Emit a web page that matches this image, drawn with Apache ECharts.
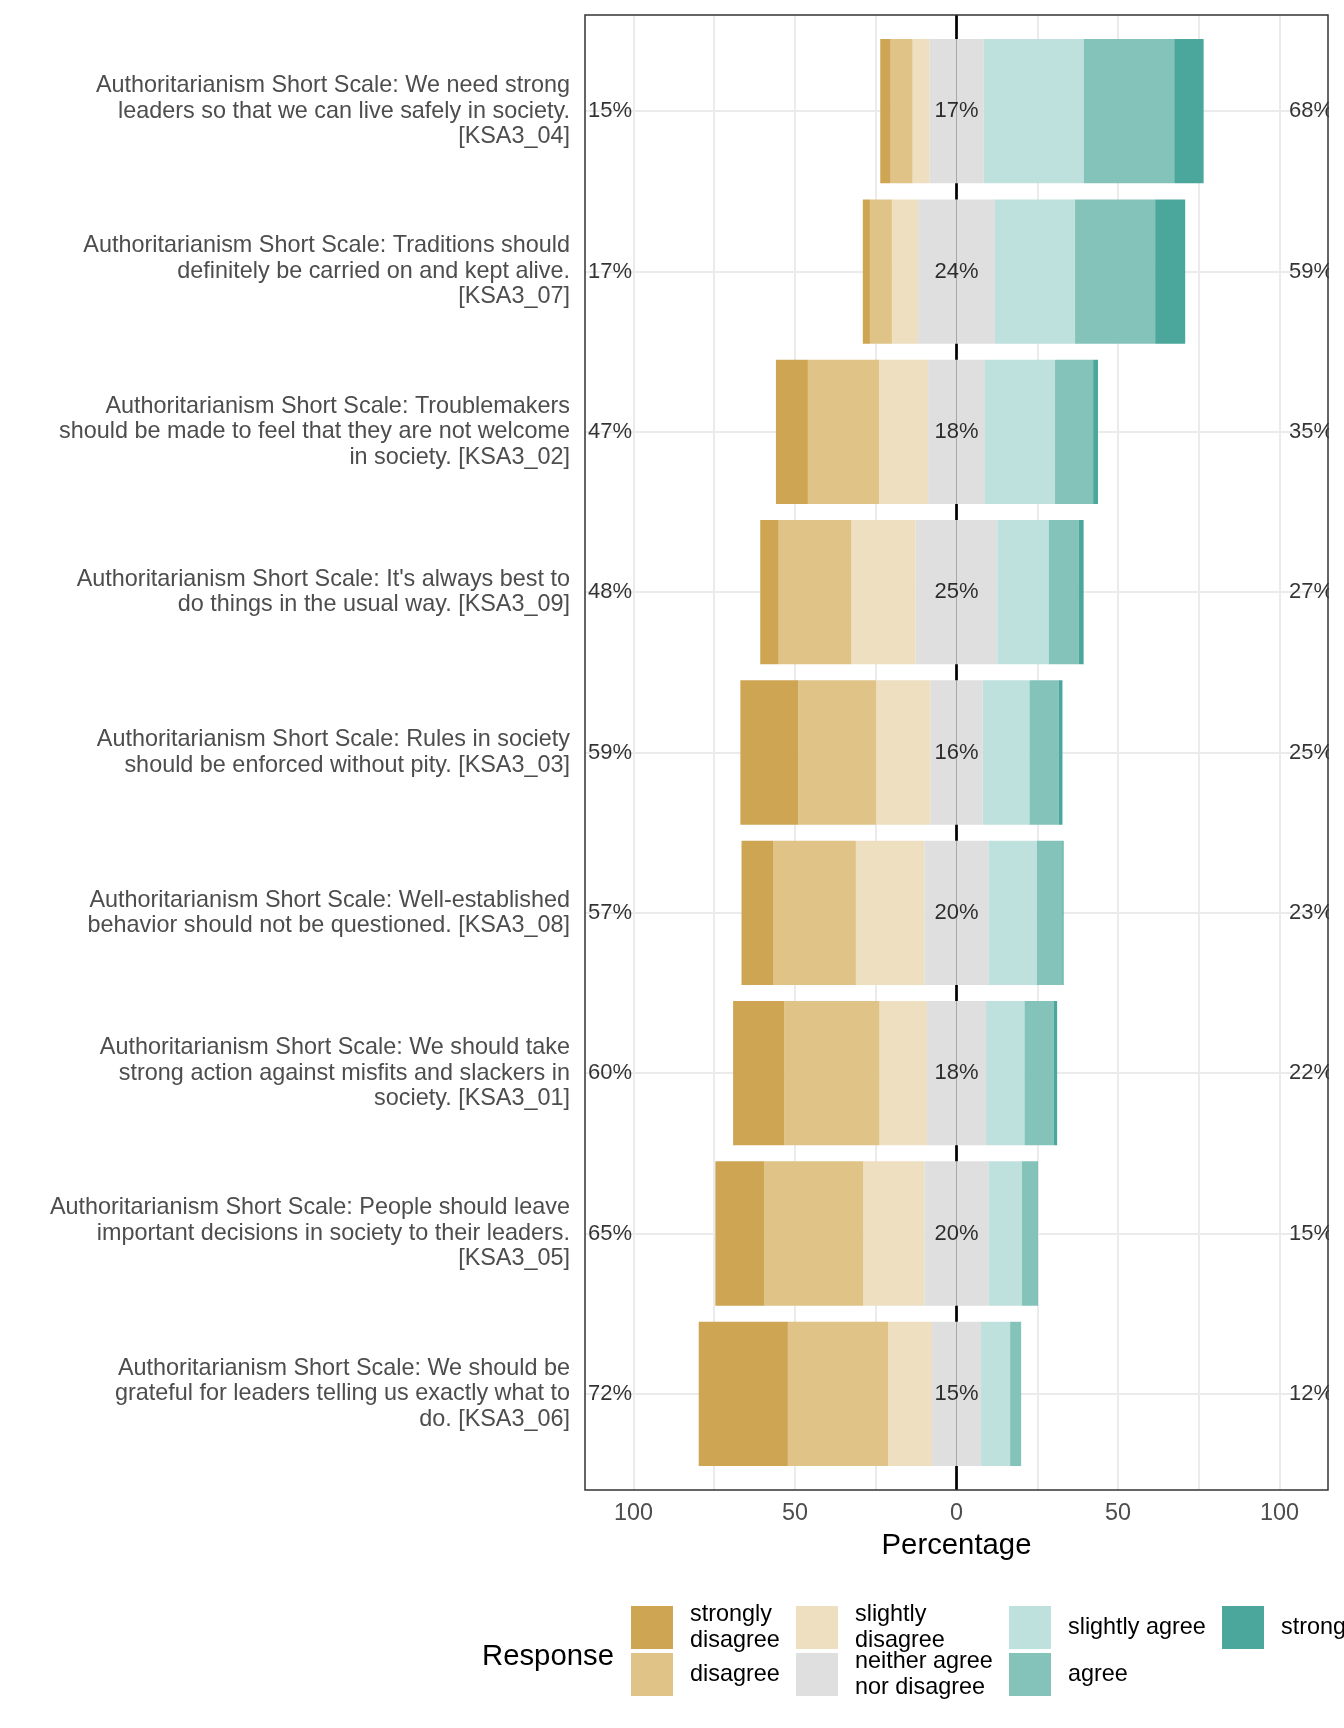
<!DOCTYPE html>
<html>
<head>
<meta charset="utf-8">
<script src="https://cdn.jsdelivr.net/npm/echarts/dist/echarts.min.js"></script>
<style>
html,body{margin:0;padding:0;background:#ffffff;}
#chart{width:1344px;height:1728px;}
</style>
</head>
<body>
<div id="chart"></div>
<script>
// ---------------- data ----------------
const categories = [
  "Authoritarianism Short Scale: We need strong\nleaders so that we can live safely in society.\n[KSA3_04]",
  "Authoritarianism Short Scale: Traditions should\ndefinitely be carried on and kept alive.\n[KSA3_07]",
  "Authoritarianism Short Scale: Troublemakers\nshould be made to feel that they are not welcome\nin society. [KSA3_02]",
  "Authoritarianism Short Scale: It's always best to\ndo things in the usual way. [KSA3_09]",
  "Authoritarianism Short Scale: Rules in society\nshould be enforced without pity. [KSA3_03]",
  "Authoritarianism Short Scale: Well-established\nbehavior should not be questioned. [KSA3_08]",
  "Authoritarianism Short Scale: We should take\nstrong action against misfits and slackers in\nsociety. [KSA3_01]",
  "Authoritarianism Short Scale: People should leave\nimportant decisions in society to their leaders.\n[KSA3_05]",
  "Authoritarianism Short Scale: We should be\ngrateful for leaders telling us exactly what to\ndo. [KSA3_06]"
];
const stronglyDisagree = [3.2, 2.2, 9.9, 5.7, 17.9, 9.9, 15.8, 15.1, 27.6];
const disagree         = [6.8, 6.8, 22.0, 22.5, 24.1, 25.5, 29.5, 30.7, 31.0];
const slightlyDisagree = [5.2, 8.1, 15.2, 19.9, 16.8, 21.2, 14.7, 18.9, 13.6];
const neither          = [16.8, 23.8, 17.6, 25.3, 16.2, 19.9, 18.3, 19.9, 15.2];
const slightlyAgree    = [31.0, 24.8, 21.7, 15.9, 14.5, 14.9, 11.9, 10.3, 9.0];
const agree            = [28.0, 24.8, 11.8, 9.3, 9.0, 7.9, 9.0, 4.7, 3.2];
const stronglyAgree    = [9.1, 9.3, 1.5, 1.5, 1.2, 0.4, 1.1, 0.2, 0.2];

const lowPct     = [15, 17, 47, 48, 59, 57, 60, 65, 72];
const neutralPct = [17, 24, 18, 25, 16, 20, 18, 20, 15];
const highPct    = [68, 59, 35, 27, 25, 23, 22, 15, 12];

const xTickLabels = [-100, -50, 0, 50, 100];

const responseNames = ["strongly disagree", "disagree", "slightly disagree",
  "neither agree nor disagree", "slightly agree", "agree", "strongly agree"];
const legendText = {
  "strongly disagree": "strongly\ndisagree",
  "disagree": "disagree",
  "slightly disagree": "slightly\ndisagree",
  "neither agree nor disagree": "neither agree\nnor disagree",
  "slightly agree": "slightly agree",
  "agree": "agree",
  "strongly agree": "strongly agree"
};
const colors = {
  "strongly disagree": "#CEA553",
  "disagree": "#DFC387",
  "slightly disagree": "#EDDFC0",
  "neither agree nor disagree": "#DFDFDF",
  "slightly agree": "#BFE1DE",
  "agree": "#84C3BA",
  "strongly agree": "#4BA79B"
};

// ---------------- layout ----------------
const FONT = "'Liberation Sans', Arial, Helvetica, sans-serif";
const panelLeft = 585, panelTop = 15, panelW = 743, panelH = 1475;
const xLim = 115;
const pxPerUnit = panelW / (2 * xLim);
const zeroX = panelLeft + panelW / 2;
const band = panelH / (categories.length + 0.2);

const neg = arr => arr.map(v => -v);

function barSeries(name, data) {
  return {
    type: 'bar', name: name, stack: 'likert', data: data,
    xAxisIndex: 2, yAxisIndex: 2, barWidth: '90%', z: 3, silent: true,
    itemStyle: { color: colors[name] },
    emphasis: { disabled: true }
  };
}
function labelSeries(vals, xv, pos, dist) {
  return {
    type: 'scatter', xAxisIndex: 2, yAxisIndex: 2, z: 5, silent: true,
    symbolSize: 1, itemStyle: { color: 'rgba(0,0,0,0)' },
    data: vals.map((v, i) => [xv, i, v]),
    label: {
      show: true, position: pos, distance: dist,
      formatter: p => p.value[2] + '%',
      color: '#000000', fontSize: 22, fontFamily: FONT
    }
  };
}
function legendAt(name, left, top) {
  return {
    data: [name], left: left, top: top, orient: 'vertical', padding: 0,
    itemWidth: 42, itemHeight: 43, icon: 'rect', selectedMode: false,
    formatter: n => legendText[n],
    textStyle: { fontSize: 23.4, fontFamily: FONT, color: '#000000', lineHeight: 25.5, padding: [0, 0, 0, 12] }
  };
}

const option = {
  animation: false,
  backgroundColor: '#ffffff',
  textStyle: { fontFamily: FONT },
  title: {
    text: 'Response', left: 482, top: 1642, padding: 0,
    textStyle: { fontSize: 29.3, fontWeight: 'normal', color: '#000000', fontFamily: FONT }
  },
  grid: [
    // 0: panel frame
    { left: panelLeft, top: panelTop, width: panelW, height: panelH, show: true,
      borderColor: '#333333', borderWidth: 1.5, backgroundColor: 'rgba(0,0,0,0)', z: 10,
      containLabel: false, outerBoundsMode: 'none' },
    // 1: tick / vertical gridline grid (-100..100)
    { left: zeroX - 100 * pxPerUnit, top: panelTop, width: 200 * pxPerUnit, height: panelH,
      containLabel: false, outerBoundsMode: 'none' },
    // 2: data grid
    { left: panelLeft, top: panelTop + 0.1 * band, width: panelW, height: categories.length * band,
      containLabel: false, outerBoundsMode: 'none' }
  ],
  xAxis: [
    { gridIndex: 0, type: 'value', min: -xLim, max: xLim, show: false },
    { gridIndex: 1, type: 'value', min: -100, max: 100, interval: 25,
      axisLine: { show: false }, axisTick: { show: false },
      splitLine: { show: true, lineStyle: { color: '#EBEBEB', width: 2 } },
      axisLabel: { showMinLabel: true, showMaxLabel: true, margin: 12,
        formatter: v => (xTickLabels.indexOf(v) >= 0 ? String(Math.abs(v)) : ''),
        color: '#4D4D4D', fontSize: 23.4, fontFamily: FONT },
      name: 'Percentage', nameLocation: 'middle', nameGap: 41,
      nameTextStyle: { fontSize: 29.3, color: '#000000', fontFamily: FONT } },
    { gridIndex: 2, type: 'value', min: -xLim, max: xLim, show: false }
  ],
  yAxis: [
    { gridIndex: 0, type: 'value', show: false },
    { gridIndex: 1, type: 'value', min: 0, max: 1, show: false },
    { gridIndex: 2, type: 'category', data: categories, inverse: true,
      axisLine: { show: false }, axisTick: { show: false }, splitLine: { show: false },
      axisLabel: { interval: 0, margin: 15, color: '#4D4D4D', fontSize: 23.4,
        lineHeight: 25.5, fontFamily: FONT, align: 'right' } }
  ],
  legend: [
    legendAt('strongly disagree', 631, 1602),
    legendAt('disagree', 631, 1653),
    legendAt('slightly disagree', 796, 1602),
    legendAt('neither agree nor disagree', 796, 1649),
    legendAt('slightly agree', 1009, 1606),
    legendAt('agree', 1009, 1653),
    legendAt('strongly agree', 1222, 1606)
  ],
  graphic: [
    { type: 'rect', left: panelLeft + panelW + 1, top: panelTop - 2,
      shape: { width: 20, height: panelH + 4 }, style: { fill: '#ffffff' }, z: 100, silent: true }
  ],
  series: [
    // horizontal gridlines at category centres
    { type: 'line', xAxisIndex: 2, yAxisIndex: 2, data: [], z: 1, silent: true,
      markLine: { z: 1, silent: true, symbol: ['none', 'none'], label: { show: false },
        lineStyle: { color: '#EBEBEB', width: 2, type: 'solid' },
        emphasis: { disabled: true },
        data: categories.map((c, i) => ({ yAxis: i })) } },
    // zero line
    { type: 'line', xAxisIndex: 1, yAxisIndex: 1, data: [], z: 2, silent: true,
      markLine: { z: 2, silent: true, symbol: ['none', 'none'], label: { show: false },
        lineStyle: { color: '#000000', width: 2.7, type: 'solid' },
        emphasis: { disabled: true },
        data: [{ xAxis: 0 }] } },
    barSeries('neither agree nor disagree', neither.map(v => -v / 2)),
    barSeries('neither agree nor disagree', neither.map(v => v / 2)),
    barSeries('slightly disagree', neg(slightlyDisagree)),
    barSeries('slightly agree', slightlyAgree),
    barSeries('disagree', neg(disagree)),
    barSeries('agree', agree),
    barSeries('strongly disagree', neg(stronglyDisagree)),
    barSeries('strongly agree', stronglyAgree),
    labelSeries(lowPct, -100, 'left', 1),
    labelSeries(neutralPct, 0, 'inside', 0),
    labelSeries(highPct, 100, 'right', 9)
  ]
};

const chart = echarts.init(document.getElementById('chart'), null, { renderer: 'canvas' });
chart.setOption(option);
</script>
</body>
</html>
